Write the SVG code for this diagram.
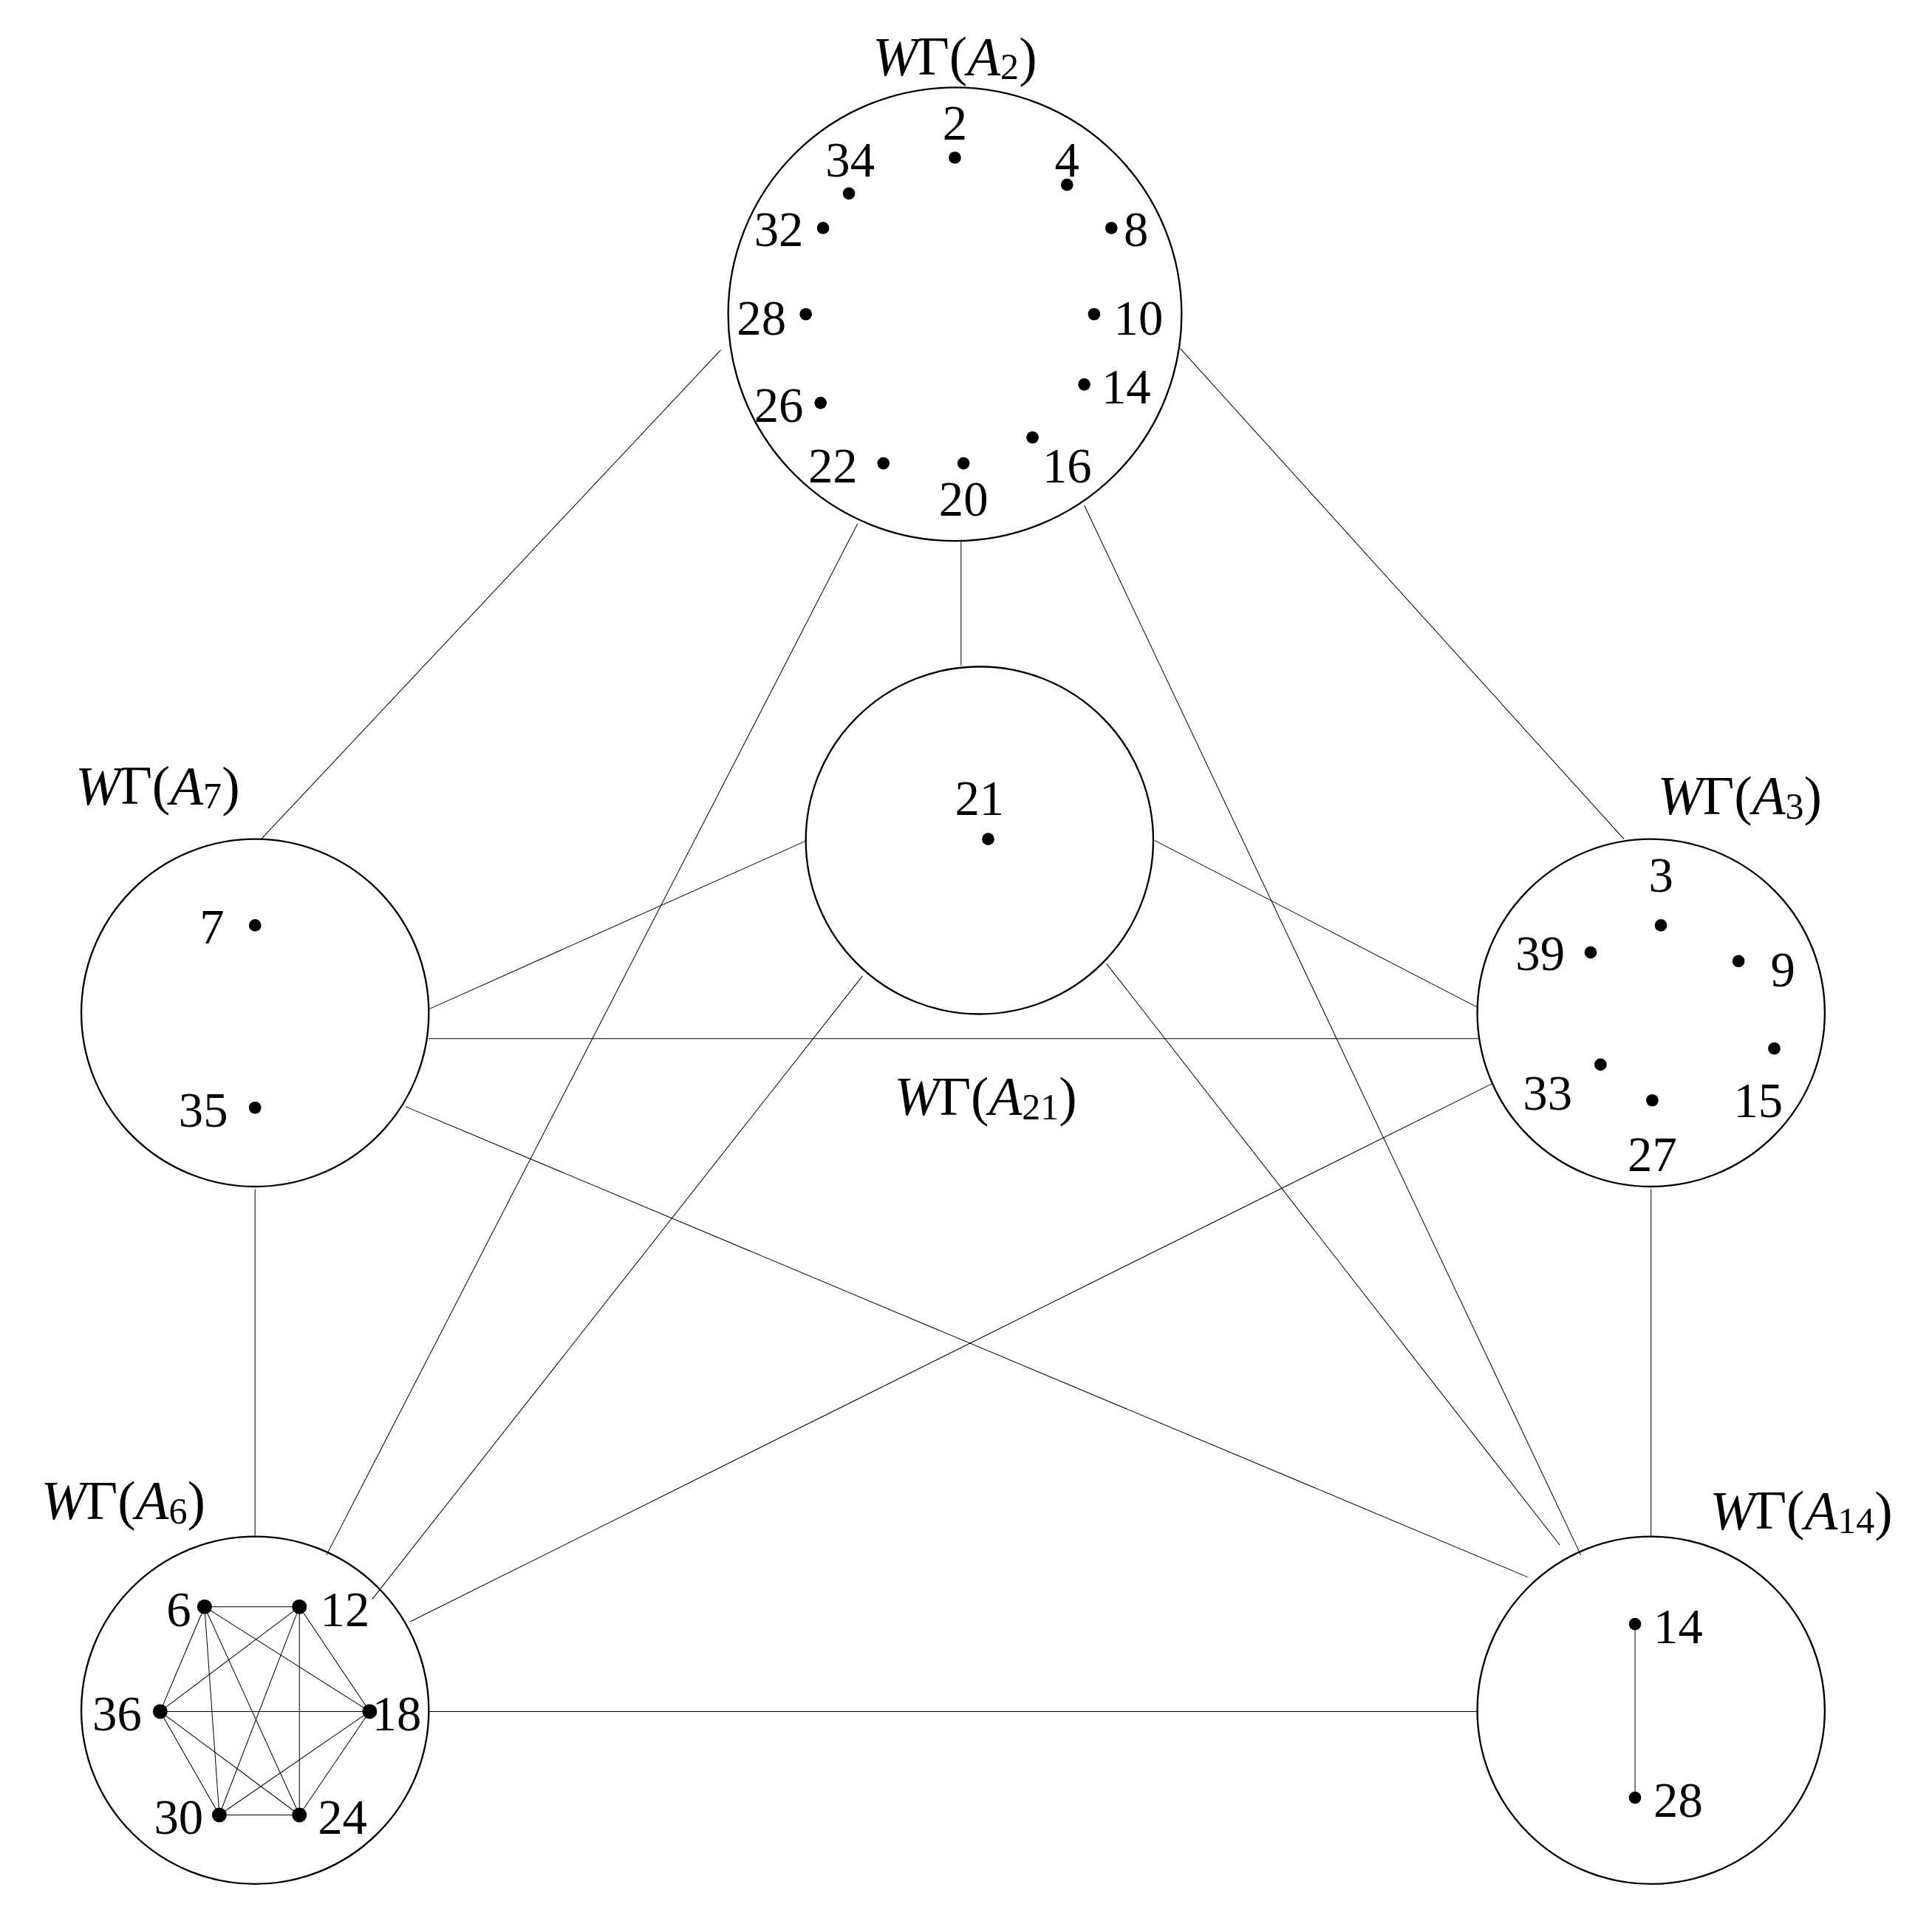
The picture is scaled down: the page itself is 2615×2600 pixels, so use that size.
<svg xmlns="http://www.w3.org/2000/svg" width="2615" height="2600" viewBox="0 0 2615 2600">
<style>
text{font-family:"Liberation Serif",serif;font-size:40px;fill:#000;text-anchor:middle;dominant-baseline:central}
.t{font-size:44px}
.i{font-style:italic}
.s{font-size:30px}
.c{fill:none;stroke:#000;stroke-width:1.4}
.e line{stroke:#000;stroke-width:0.6}
circle.d{fill:#000}
</style>
<rect width="2615" height="2600" fill="#fff"/>
<g transform="scale(1.6677)">
<g id="connectors" class="e">
<line x1="585" y1="284" x2="212" y2="681"/>
<line x1="958" y1="283" x2="1318" y2="681"/>
<line x1="780" y1="438" x2="780" y2="540"/>
<line x1="696" y1="425" x2="265" y2="1262"/>
<line x1="880" y1="410" x2="1283" y2="1262"/>
<line x1="655" y1="682" x2="348" y2="819"/>
<line x1="937" y1="682" x2="1200" y2="818"/>
<line x1="700" y1="792" x2="302" y2="1298"/>
<line x1="898" y1="782" x2="1266" y2="1254"/>
<line x1="348" y1="843" x2="1200" y2="843"/>
<line x1="329" y1="898" x2="1240" y2="1280"/>
<line x1="207" y1="965" x2="207" y2="1248"/>
<line x1="1340" y1="965" x2="1340" y2="1248"/>
<line x1="1212" y1="879" x2="333" y2="1316"/>
<line x1="348" y1="1389" x2="1200" y2="1389"/>
</g>
<g id="A2">
<circle class="c" cx="775" cy="255" r="184"/>
<text class="t" x="775" y="46"><tspan class="i">W</tspan>Γ(<tspan class="i">A</tspan><tspan class="s" dy="8">2</tspan><tspan dy="-8">)</tspan></text>
<circle class="d" cx="775" cy="128" r="5"/><text x="775" y="100">2</text>
<circle class="d" cx="866" cy="150" r="5"/><text x="866" y="130">4</text>
<circle class="d" cx="902" cy="185" r="5"/><text x="922" y="186">8</text>
<circle class="d" cx="888" cy="255" r="5"/><text x="924" y="258">10</text>
<circle class="d" cx="880" cy="312" r="5"/><text x="914" y="314">14</text>
<circle class="d" cx="838" cy="355" r="5"/><text x="866" y="378">16</text>
<circle class="d" cx="782" cy="376" r="5"/><text x="782" y="405">20</text>
<circle class="d" cx="717" cy="376" r="5"/><text x="676" y="378">22</text>
<circle class="d" cx="666" cy="327" r="5"/><text x="632" y="329">26</text>
<circle class="d" cx="654" cy="255" r="5"/><text x="618" y="258">28</text>
<circle class="d" cx="668" cy="185" r="5"/><text x="632" y="186">32</text>
<circle class="d" cx="689" cy="157" r="5"/><text x="690" y="130">34</text>
</g>
<g id="A21">
<circle class="c" cx="795" cy="682" r="141"/>
<text class="t" x="800" y="890"><tspan class="i">W</tspan>Γ(<tspan class="i">A</tspan><tspan class="s" dy="8">21</tspan><tspan dy="-8">)</tspan></text>
<circle class="d" cx="802" cy="681" r="5"/><text x="795" y="648">21</text>
</g>
<g id="A7">
<circle class="c" cx="207" cy="822" r="141"/>
<text class="t" x="128" y="638"><tspan class="i">W</tspan>Γ(<tspan class="i">A</tspan><tspan class="s" dy="8">7</tspan><tspan dy="-8">)</tspan></text>
<circle class="d" cx="207" cy="751" r="5"/><text x="172" y="752">7</text>
<circle class="d" cx="207" cy="899" r="5"/><text x="165" y="901">35</text>
</g>
<g id="A3">
<circle class="c" cx="1340" cy="822" r="141"/>
<text class="t" x="1412" y="646"><tspan class="i">W</tspan>Γ(<tspan class="i">A</tspan><tspan class="s" dy="8">3</tspan><tspan dy="-8">)</tspan></text>
<circle class="d" cx="1348" cy="751" r="5"/><text x="1348" y="710">3</text>
<circle class="d" cx="1291" cy="773" r="5"/><text x="1250" y="774">39</text>
<circle class="d" cx="1411" cy="780" r="5"/><text x="1447" y="787">9</text>
<circle class="d" cx="1440" cy="851" r="5"/><text x="1427" y="893">15</text>
<circle class="d" cx="1299" cy="864" r="5"/><text x="1256" y="887">33</text>
<circle class="d" cx="1341" cy="893" r="5"/><text x="1341" y="937">27</text>
</g>
<g id="A6">
<circle class="c" cx="207" cy="1388" r="141"/>
<text class="t" x="100" y="1218"><tspan class="i">W</tspan>Γ(<tspan class="i">A</tspan><tspan class="s" dy="8">6</tspan><tspan dy="-8">)</tspan></text>
<g class="e">
<line x1="166" y1="1304" x2="243" y2="1304"/><line x1="166" y1="1304" x2="130" y2="1389"/><line x1="166" y1="1304" x2="300" y2="1389"/><line x1="166" y1="1304" x2="178" y2="1473"/><line x1="166" y1="1304" x2="243" y2="1473"/>
<line x1="243" y1="1304" x2="130" y2="1389"/><line x1="243" y1="1304" x2="300" y2="1389"/><line x1="243" y1="1304" x2="178" y2="1473"/><line x1="243" y1="1304" x2="243" y2="1473"/>
<line x1="130" y1="1389" x2="300" y2="1389"/><line x1="130" y1="1389" x2="178" y2="1473"/><line x1="130" y1="1389" x2="243" y2="1473"/>
<line x1="300" y1="1389" x2="178" y2="1473"/><line x1="300" y1="1389" x2="243" y2="1473"/>
<line x1="178" y1="1473" x2="243" y2="1473"/>
</g>
<circle class="d" cx="166" cy="1304" r="6"/><text x="145" y="1306">6</text>
<circle class="d" cx="243" cy="1304" r="6"/><text x="280" y="1306">12</text>
<circle class="d" cx="130" cy="1389" r="6"/><text x="95" y="1391">36</text>
<circle class="d" cx="300" cy="1389" r="6"/><text x="322" y="1391">18</text>
<circle class="d" cx="178" cy="1473" r="6"/><text x="145" y="1475">30</text>
<circle class="d" cx="243" cy="1473" r="6"/><text x="278" y="1475">24</text>
</g>
<g id="A14">
<circle class="c" cx="1340" cy="1388" r="141"/>
<text class="t" x="1462" y="1226"><tspan class="i">W</tspan>Γ(<tspan class="i">A</tspan><tspan class="s" dy="8">14</tspan><tspan dy="-8">)</tspan></text>
<line x1="1327" y1="1318" x2="1327" y2="1459" stroke="#000" stroke-width="0.6"/>
<circle class="d" cx="1327" cy="1318" r="5"/><text x="1362" y="1320">14</text>
<circle class="d" cx="1327" cy="1459" r="5"/><text x="1362" y="1461">28</text>
</g>
</g>
</svg>
